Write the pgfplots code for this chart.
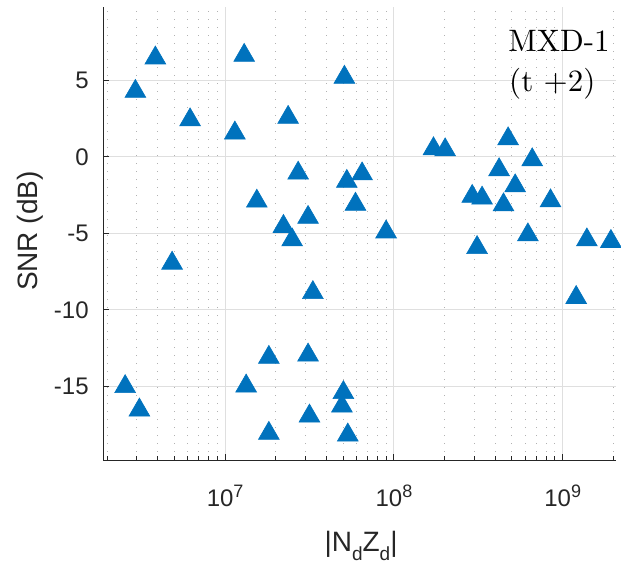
\documentclass[border=0pt]{standalone}
\usepackage{pgfplots}
\pgfplotsset{compat=1.18}
\usepackage{fontspec}
\newfontfamily\arial{Liberation Sans}
\newfontfamily\cmr{lmroman10-regular.otf}
\definecolor{mblue}{rgb}{0,0.447,0.741}
\definecolor{axc}{HTML}{262626}
\definecolor{gridc}{HTML}{DFDFDF}
\pgfplotstableread{
x y
3.86e6 6.45
2.94e6 4.27
1.297e7 6.62
5.09e7 5.19
6.20e6 2.41
1.142e7 1.55
2.362e7 2.57
1.541e7 -2.90
2.708e7 -1.07
5.26e7 -1.61
6.48e7 -1.12
5.92e7 -3.10
3.10e7 -3.96
2.216e7 -4.55
2.495e7 -5.43
8.99e7 -4.91
4.85e6 -6.95
3.31e7 -8.87
2.556e6 -15.01
3.105e6 -16.54
1.816e7 -13.10
3.10e7 -12.95
1.332e7 -14.97
5.02e7 -15.40
4.92e7 -16.28
3.16e7 -16.93
1.816e7 -18.06
5.33e7 -18.17
1.716e8 0.52
2.012e8 0.45
4.75e8 1.17
6.60e8 -0.20
4.20e8 -0.85
5.23e8 -1.90
2.91e8 -2.59
3.33e8 -2.70
4.46e8 -3.14
8.47e8 -2.88
6.22e8 -5.10
3.11e8 -5.93
1.391e9 -5.43
1.931e9 -5.53
1.202e9 -9.19
}\datatable
\begin{document}
\begin{tikzpicture}
\begin{axis}[
 at={(0,0)}, anchor=south west,
 scale only axis, width=256.5pt, height=226.5pt,
 xmode=log, xmin=1.89e6, xmax=2.07e9, ymin=-19.8, ymax=9.78,
 axis x line*=bottom, axis y line*=left,
 axis line style={axc, line width=0.5pt, -},
 tick align=inside, major tick length=3pt, minor tick length=1.8pt,
 tick style={axc, line width=0.5pt},
 xtick={1e7,1e8,1e9},
 xticklabels={10\raisebox{4.2pt}{\fontsize{9}{9}\selectfont 7},10\raisebox{4.2pt}{\fontsize{9}{9}\selectfont 8},10\raisebox{4.2pt}{\fontsize{9}{9}\selectfont 9}},
 minor xtick={2e6,3e6,4e6,5e6,6e6,7e6,8e6,9e6,2e7,3e7,4e7,5e7,6e7,7e7,8e7,9e7,2e8,3e8,4e8,5e8,6e8,7e8,8e8,9e8,2e9},
 ytick={-15,-10,-5,0,5}, yticklabels={-15,-10,-5,0,5},
 xmajorgrids, ymajorgrids, xminorgrids,
 major grid style={gridc, line width=0.5pt},
 minor grid style={gray!60, line width=0.5pt, dash pattern=on 0.6pt off 3.4pt},
 ticklabel style={font=\arial\fontsize{12}{14}\selectfont, text=axc},
 xticklabel style={anchor=base, yshift=-23pt},
 yticklabel style={anchor=east, inner sep=0pt, xshift=-7pt},
 xlabel={|N\raisebox{-4.5pt}{\fontsize{9.5}{9.5}\selectfont d}Z\raisebox{-4.5pt}{\fontsize{9.5}{9.5}\selectfont d}|},
 ylabel={SNR (dB)},
 label style={font=\arial\fontsize{14}{16}\selectfont, text=axc},
 xlabel style={at={(axis description cs:0.503,-0.203)}, anchor=base},
 ylabel style={at={(axis description cs:-0.1423,0.5055)}, anchor=center},
 clip=false,
]
\addplot[only marks, mark=triangle*, mark size=6pt, mark options={fill=mblue, draw=mblue, line width=0.3pt}] table[x=x,y=y] {\datatable};
\node[anchor=base west, inner sep=0pt, font=\cmr\fontsize{15.5}{18}\selectfont] at (rel axis cs:0.7895,0.9007) {MXD-1};
\node[anchor=base west, inner sep=0pt, font=\cmr\fontsize{15.5}{18}\selectfont] at (rel axis cs:0.791,0.813) {(t +2)};
\end{axis}
\pgfresetboundingbox
\path[use as bounding box] (-51.5pt,-54pt) rectangle (259pt,230pt);
\end{tikzpicture}
\end{document}
